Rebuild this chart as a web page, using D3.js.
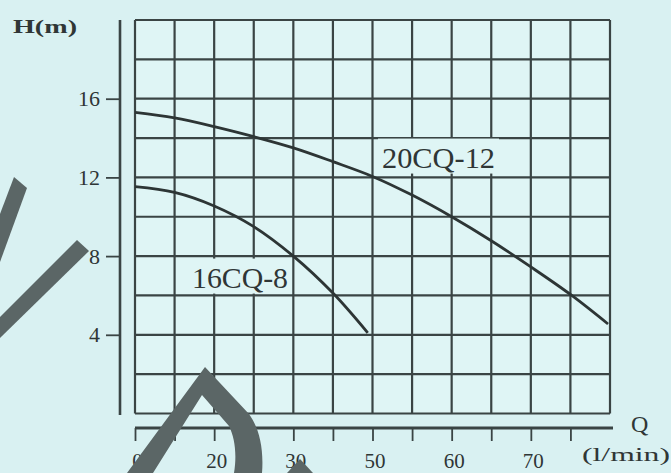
<!DOCTYPE html>
<html>
<head>
<meta charset="utf-8">
<script src="https://cdn.jsdelivr.net/npm/d3@7"></script>
<style>
    body { margin: 0; background: #d9f1f2; }
    svg { display: block; }
    text { font-family: "Liberation Serif", "DejaVu Serif", serif; fill: #2f3636; }
</style>
</head>
<body>
<svg id="drawing_region"></svg>
<script>
// head H (m) tick values on the left axis
const hTicks = [4, 8, 12, 16];
// Q axis: one tick per grid column, labels as printed on the sheet
const qTicks = [0, 1, 2, 3, 4, 5, 6, 7, 8, 9, 10, 11];
const qLabels = ['0', '', '20', '', '30', '', '50', '', '60', '', '70', ''];

// curves, x = grid column, y = head in m
const curve20cq12 = [[0, 15.3], [1, 15.02], [2, 14.58], [3, 14.07], [4, 13.5], [5, 12.8], [6, 12.05],
    [7, 11.1], [8, 10.0], [9, 8.78], [10, 7.45], [11, 6.05], [11.95, 4.55]];
const curve16cq8 = [[0, 11.53], [1, 11.24], [2, 10.55], [3, 9.5], [4, 8.0], [5, 6.12], [5.88, 4.1]];

const curveNames = [
    {name: '20CQ-12', x: 6.24, y: 12.5, len: 113},
    {name: '16CQ-8', x: 1.44, y: 6.4, len: 96}
];

class PumpChart {
    constructor(config) {
        this.config = config;
        this.init();
    }

    init() {
        let self = this;
        const c = self.config;

        self.svg = d3.select(c.parent)
            .attr('width', c.width)
            .attr('height', c.height);

        self.xscale = d3.scaleLinear().domain([0, 12]).range([135, 610]);
        self.yscale = d3.scaleLinear().domain([0, 20]).range([413.5, 20]);
    }

    render() {
        let self = this;
        const x = self.xscale, y = self.yscale;
        const ink = '#3a4444';

        // grid
        self.svg.append('rect')
            .attr('x', x(0)).attr('y', y(20))
            .attr('width', x(12) - x(0)).attr('height', y(0) - y(20))
            .attr('fill', '#dff5f5');

        const grid = self.svg.append('g')
            .attr('stroke', ink)
            .attr('stroke-width', 2.2);
        grid.selectAll('.v').data(d3.range(0, 13)).join('line')
            .attr('x1', d => x(d)).attr('x2', d => x(d))
            .attr('y1', y(20)).attr('y2', y(0));
        grid.selectAll('.h').data(d3.range(0, 21, 2)).join('line')
            .attr('x1', x(0)).attr('x2', x(12))
            .attr('y1', d => y(d)).attr('y2', d => y(d));

        // left axis
        const yaxis = d3.axisLeft(y).tickValues(hTicks).tickSize(14).tickSizeOuter(0).tickPadding(6);
        const yg = self.svg.append('g')
            .attr('transform', 'translate(120,0)')
            .call(yaxis);
        yg.select('.domain').attr('stroke', ink).attr('stroke-width', 2.6)
            .attr('d', `M0,${y(20)}V${y(0) + 1.5}`);
        yg.selectAll('.tick line').attr('stroke', ink).attr('stroke-width', 1.8);
        yg.selectAll('.tick text').attr('font-size', 22).attr('fill', '#2f3636')
            .attr('font-family', '"Liberation Serif", serif');

        // bottom axis
        const xaxis = d3.axisBottom(x).tickValues(qTicks)
            .tickFormat((d, i) => qLabels[i]).tickSize(13).tickSizeOuter(0).tickPadding(12);
        const xg = self.svg.append('g')
            .attr('transform', 'translate(0,428)')
            .call(xaxis);
        xg.select('.domain').attr('stroke', ink).attr('stroke-width', 2.8)
            .attr('d', `M${x(0)},0H${x(12) + 3}`);
        xg.selectAll('.tick line').attr('stroke', ink).attr('stroke-width', 1.8);
        xg.selectAll('.tick text').attr('font-size', 21).attr('fill', '#2f3636')
            .attr('font-family', '"Liberation Serif", serif')
            .attr('dx', 2);

        // curve labels with a patch of paper behind them
        curveNames.forEach(d => {
            const t = self.svg.append('text')
                .attr('x', x(d.x)).attr('y', y(d.y))
                .attr('font-size', 30)
                .attr('textLength', d.len)
                .attr('lengthAdjust', 'spacingAndGlyphs')
                .text(d.name);
            const b = t.node().getBBox();
            self.svg.insert('rect', () => t.node())
                .attr('x', b.x - 4).attr('y', y(d.y) - 29)
                .attr('width', b.width + 8).attr('height', 35)
                .attr('fill', '#dff5f5');
        });

        // curves
        const line = d3.line()
            .x(d => x(d[0]))
            .y(d => y(d[1]))
            .curve(d3.curveCatmullRom);
        [curve20cq12, curve16cq8].forEach(data => {
            self.svg.append('path')
                .attr('d', line(data))
                .attr('fill', 'none')
                .attr('stroke', '#2d3535')
                .attr('stroke-width', 2.8);
        });

        // axis titles
        self.svg.append('text').attr('x', 13).attr('y', 33)
            .attr('font-size', 19).attr('font-weight', 'bold')
            .attr('textLength', 64).attr('lengthAdjust', 'spacingAndGlyphs')
            .text('H(m)');
        self.svg.append('text').attr('x', 631).attr('y', 432)
            .attr('font-size', 24).text('Q');
        self.svg.append('text').attr('x', 582).attr('y', 461)
            .attr('font-size', 19)
            .attr('textLength', 88).attr('lengthAdjust', 'spacingAndGlyphs')
            .text('(l/min)');

        // scan watermark strokes over the sheet
        const marks = [
            'M14,177 L27,188 L0,262 L0,214 Z',
            'M77,240 L89,251 L0,338 L0,317 Z',
            'M127,473 L205,367 L249,414 C259,428 264,448 262,473 L234,473 C237,455 235,438 229,426 L202,395 L153,473 Z',
            'M300,459 L313,473 L287,473 Z'
        ];
        self.svg.append('g').selectAll('path').data(marks).join('path')
            .attr('d', d => d)
            .attr('fill', '#5b6666');
    }
}

const chart = new PumpChart({parent: '#drawing_region', width: 671, height: 473});
chart.render();
</script>
</body>
</html>
